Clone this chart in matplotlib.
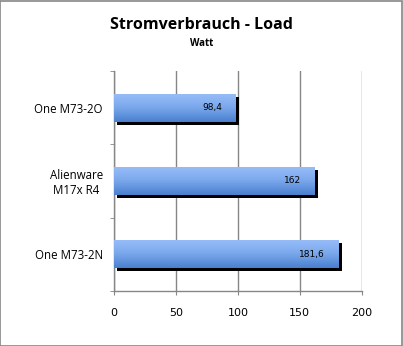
import matplotlib
matplotlib.use('Agg')
import matplotlib.pyplot as plt
import matplotlib.patheffects as pe
import numpy as np
from matplotlib.colors import LinearSegmentedColormap

# data (top to bottom in the chart)
categories = ['One M73-2O', 'Alienware\nM17x R4', 'One M73-2N']
values = [98.4, 162, 181.6]
value_labels = ['98,4', '162', '181,6']
x_ticks = [0, 50, 100, 150, 200]

grey = '#868686'

fig = plt.figure(figsize=(4.03, 3.46), dpi=100)
fig.patch.set_facecolor('white')
ax = fig.add_axes([0.2829, 0.159, 0.6146, 0.6358])

ypos = np.arange(len(categories))
bars = ax.barh(ypos, values, height=0.385, color='#6e9ee6', zorder=3,
               path_effects=[pe.SimplePatchShadow(offset=(2.2, -2.2), shadow_rgbFace='black', alpha=1),
                             pe.Normal()])

# vertical gradient inside each bar
cmap = LinearSegmentedColormap.from_list('bar', ['#98bef8', '#7aa7ec', '#4a80cf'])
grad = np.linspace(0, 1, 64).reshape(-1, 1)
for b in bars:
    x0, y0 = b.get_x(), b.get_y()
    im = ax.imshow(grad, cmap=cmap, aspect='auto', zorder=4,
                   extent=[x0, x0 + b.get_width(), y0 + b.get_height(), y0])
    im.set_clip_path(b)

for y, v, lab in zip(ypos, values, value_labels):
    ax.annotate(lab, (v, y), xytext=(-10, 0), textcoords='offset points',
                ha='right', va='center', fontsize=6.5, zorder=5,
                family=['Liberation Sans Narrow', 'DejaVu Sans'])

ax.set_xlim(0, 200)
ax.set_ylim(len(categories) - 0.5, -0.5)
ax.set_xticks(x_ticks)
ax.set_xticklabels([str(t) for t in x_ticks], fontsize=8, family='DejaVu Sans')
ax.set_yticks(ypos)
ax.set_yticklabels(categories, fontsize=8.3, family='Open Sans', ma='center')
ax.set_yticks(np.arange(-0.5, len(categories), 1), minor=True)

ax.xaxis.grid(True, color=grey, linewidth=1, zorder=0)
ax.set_axisbelow(True)
for s in ['top', 'right']:
    ax.spines[s].set_visible(False)
for s in ['left', 'bottom']:
    ax.spines[s].set_color(grey)
    ax.spines[s].set_linewidth(1)

ax.tick_params(axis='x', direction='out', length=3, color=grey, pad=9)
ax.tick_params(axis='y', which='major', length=0, pad=8)
ax.tick_params(axis='y', which='minor', direction='out', length=3, color=grey)

fig.text(0.5, 0.928, 'Stromverbrauch - Load', ha='center', va='center',
         fontsize=11.5, fontweight='bold', family='Open Sans')
fig.text(0.5, 0.873, 'Watt', ha='center', va='center',
         fontsize=7, fontweight='bold', family='Open Sans')

# grey frame around the whole figure
fig.patches.append(plt.Rectangle((0.001, 0.001), 0.997, 0.996, transform=fig.transFigure,
                                 fill=False, edgecolor=grey, linewidth=1.2))

fig.savefig('out.png', dpi=100)
